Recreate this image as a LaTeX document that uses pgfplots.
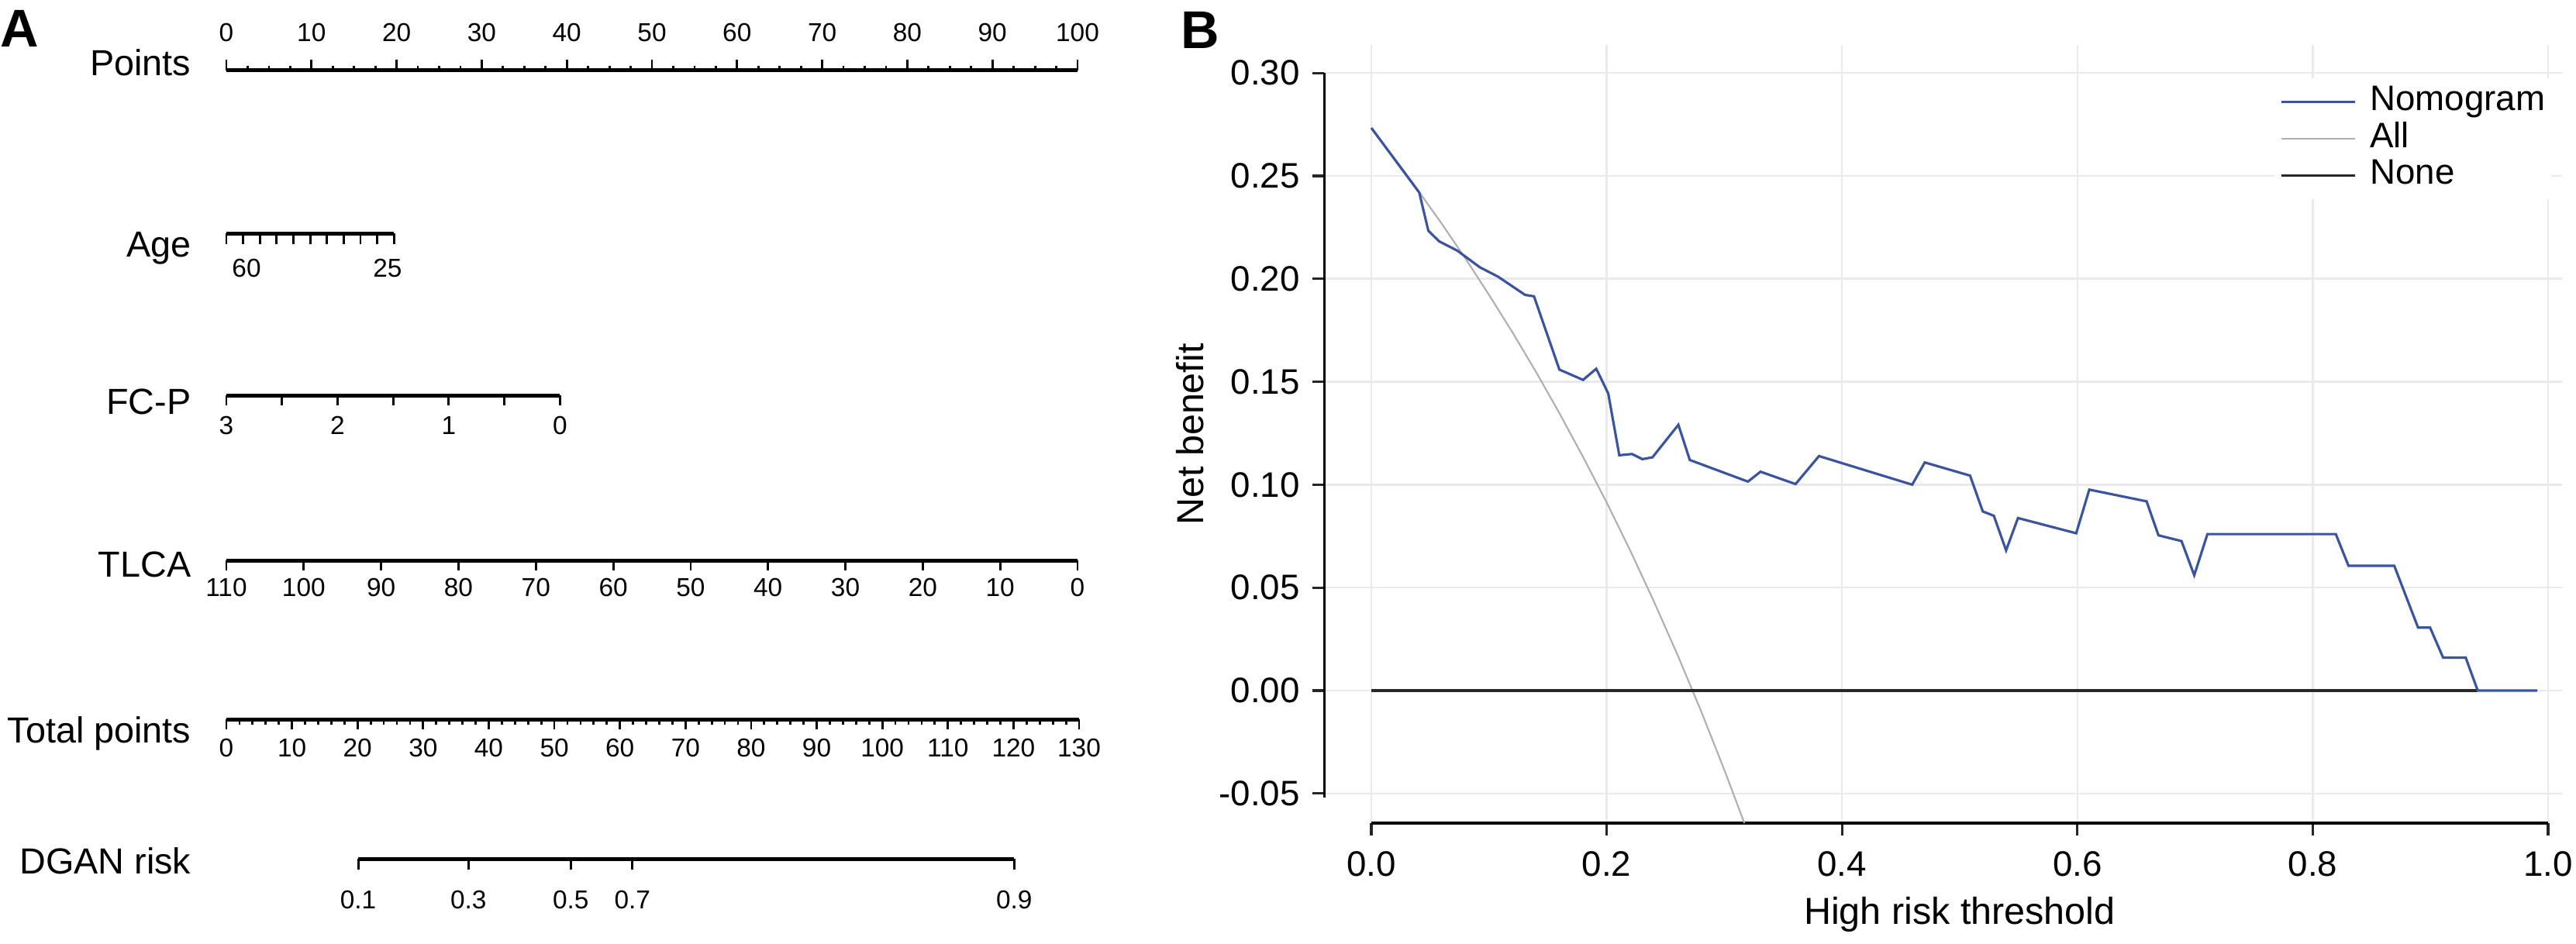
\documentclass[border=0pt]{standalone}
\usepackage{fontspec}
\setmainfont{Liberation Sans}
\usepackage{pgfplots}
\pgfplotsset{compat=1.18}

\definecolor{nomoblue}{RGB}{58,84,160}
\definecolor{allgray}{RGB}{175,175,175}
\definecolor{nonegray}{RGB}{40,40,40}
\definecolor{gridgray}{RGB}{234,234,234}

\newcommand{\rowf}{\fontsize{13.3}{15}\selectfont}
\newcommand{\tlf}{\fontsize{9.5}{11}\selectfont}
\newcommand{\btf}{\fontsize{13}{15}\selectfont}
\newcommand{\blf}{\fontsize{13.8}{16}\selectfont}

% one nomogram scale = one axis with only its x line
\pgfplotsset{
  nomo/.style={
    scale only axis, height=1mm, ymin=0, ymax=1,
    hide y axis, axis x line*=bottom,
    axis line style={line width=1.5pt, -},
    tick align=outside, major tick length=1.3mm, minor tick length=0.65mm,
    tick style={black, line width=0.8pt},
    xticklabel style={font=\tlf, anchor=base, inner sep=0pt},
  },
}

% net benefit of the nomogram
\pgfplotstableread{
x y
0.0000 0.2733
0.0407 0.2419
0.0484 0.2234
0.0576 0.2182
0.0730 0.2137
0.0922 0.2056
0.1075 0.2011
0.1306 0.1922
0.1382 0.1915
0.1598 0.1559
0.1799 0.1509
0.1911 0.1563
0.1960 0.1506
0.2013 0.1443
0.2107 0.1143
0.2215 0.1149
0.2303 0.1124
0.2389 0.1133
0.2609 0.1291
0.2706 0.1120
0.3200 0.1015
0.3307 0.1063
0.3605 0.1003
0.3804 0.1139
0.4596 0.1000
0.4703 0.1108
0.5088 0.1044
0.5196 0.0870
0.5290 0.0849
0.5394 0.0681
0.5495 0.0838
0.5990 0.0764
0.6101 0.0976
0.6588 0.0919
0.6689 0.0754
0.6885 0.0726
0.6993 0.0560
0.7105 0.0760
0.8196 0.0760
0.8304 0.0606
0.8693 0.0606
0.8895 0.0306
0.8997 0.0306
0.9108 0.0160
0.9300 0.0160
0.9402 0.0000
0.9909 0.0000
}\nomodata

% treat all
\pgfplotstableread{
x y
0.00 0.2730
0.02 0.2582
0.04 0.2427
0.06 0.2266
0.08 0.2098
0.10 0.1922
0.12 0.1739
0.14 0.1547
0.16 0.1345
0.18 0.1134
0.20 0.0913
0.22 0.0680
0.24 0.0434
0.26 0.0176
0.28 -0.0097
0.30 -0.0386
0.317 -0.0644
}\alldata

\begin{document}
\begin{tikzpicture}
\useasboundingbox (0,0) rectangle (332.3mm,-121.7mm);

% ---------------- panel A: nomogram ----------------
\node[anchor=base west, font=\fontsize{19.5}{22}\selectfont\bfseries, inner sep=0pt] at (0,-6.0mm) {A};

\node[anchor=base east, font=\rowf, inner sep=0pt] at (24.7mm,-9.75mm) {Points};
\node[anchor=base east, font=\rowf, inner sep=0pt] at (24.7mm,-33.1mm) {Age};
\node[anchor=base east, font=\rowf, inner sep=0pt] at (24.7mm,-53.4mm) {FC-P};
\node[anchor=base east, font=\rowf, inner sep=0pt] at (24.7mm,-74.4mm) {TLCA};
\node[anchor=base east, font=\rowf, inner sep=0pt] at (24.7mm,-95.8mm) {Total points};
\node[anchor=base east, font=\rowf, inner sep=0pt] at (24.7mm,-112.7mm) {DGAN risk};

% Points
\begin{axis}[nomo, axis x line*=top, at={(29.2mm,-9.07mm)}, anchor=north west,
  width=109.8mm, xmin=0, xmax=100,
  xtick={0,10,20,30,40,50,60,70,80,90,100}, minor x tick num=3,
  xticklabels={0,10,20,30,40,50,60,70,80,90,100},
  major tick length=1.4mm, minor tick length=0.6mm,
  xticklabel style={yshift=2.37mm}]
\end{axis}

% Age
\begin{axis}[nomo, at={(29.2mm,-30.14mm)}, anchor=south west,
  width=21.63mm, xmin=0, xmax=19.7,
  xtick={2.37,18.94}, xticklabels={60,25}, major tick length=0mm,
  minor xtick={0,1.97,3.94,5.91,7.88,9.85,11.82,13.79,15.76,17.73,19.7},
  minor tick length=1.4mm,
  xticklabel style={yshift=-5.64mm}]
\end{axis}

% FC-P
\begin{axis}[nomo, at={(29.2mm,-51.02mm)}, anchor=south west,
  width=43.04mm, xmin=0, xmax=39.2,
  xtick={0,13.07,26.13,39.2}, xticklabels={3,2,1,0},
  minor xtick={6.53,19.6,32.67}, minor tick length=1.3mm,
  xticklabel style={yshift=-3.76mm}]
\end{axis}

% TLCA
\begin{axis}[nomo, at={(29.2mm,-72.32mm)}, anchor=south west,
  width=109.8mm, xmin=0, xmax=100,
  xtick={0,9.0909,18.1818,27.2727,36.3636,45.4545,54.5455,63.6364,72.7273,81.8182,90.9091,100},
  xticklabels={110,100,90,80,70,60,50,40,30,20,10,0},
  xticklabel style={yshift=-3.34mm}]
\end{axis}

% Total points
\begin{axis}[nomo, at={(29.2mm,-92.82mm)}, anchor=south west,
  width=110.0mm, xmin=0, xmax=130,
  xtick={0,10,20,30,40,50,60,70,80,90,100,110,120,130}, minor x tick num=4,
  xticklabels={0,10,20,30,40,50,60,70,80,90,100,110,120,130},
  minor tick length=0.7mm,
  xticklabel style={yshift=-3.48mm}]
\end{axis}

% DGAN risk (positions in total points)
\begin{axis}[nomo, at={(46.21mm,-110.83mm)}, anchor=south west,
  width=84.62mm, xmin=20.1, xmax=120.1,
  xtick={20.1,36.9,52.5,61.9,120.1}, xticklabels={0.1,0.3,0.5,0.7,0.9},
  major tick length=1.4mm,
  xticklabel style={yshift=-4.97mm}]
\end{axis}

% ---------------- panel B: decision curve ----------------
\node[anchor=base west, font=\fontsize{19.5}{22}\selectfont\bfseries, inner sep=0pt] at (152.3mm,-6.2mm) {B};

\begin{axis}[
  at={(170.8mm,-106.2mm)}, anchor=south west,
  scale only axis, width=159.7mm, height=100.4mm,
  xmin=-0.0402, xmax=1.0119, ymin=-0.0644, ymax=0.3136,
  clip=false,
  axis line style={draw=none},
  tick align=outside, xtick pos=left, ytick pos=left,
  major tick length=1.55mm,
  tick style={black!85, line width=0.9pt},
  xtick={0,0.2,0.4,0.6,0.8,1.0},
  xticklabels={0.0,0.2,0.4,0.6,0.8,1.0},
  ytick={-0.05,0,0.05,0.1,0.15,0.2,0.25,0.3},
  yticklabels={-0.05,0.00,0.05,0.10,0.15,0.20,0.25,0.30},
  grid=major, major grid style={draw=gridgray, line width=0.25mm},
  xticklabel style={font=\btf, anchor=base, inner sep=0pt, yshift=-5.3mm},
  yticklabel style={font=\btf, anchor=east, inner sep=0pt, xshift=-1.5mm},
  xlabel={High risk threshold},
  xlabel style={at={(axis description cs:0.5134,0)}, anchor=base, yshift=-13.0mm, font=\blf},
  ylabel={Net benefit},
  ylabel style={at={(axis description cs:-0.0971,0.4995)}, anchor=base, font=\blf},
  legend image code/.code={\draw[#1] (0mm,0mm) -- (9.5mm,0mm);},
  legend cell align=left,
  legend style={at={(axis description cs:0.7671,0.9582)}, anchor=north west,
    draw=none, fill=white, inner sep=0.7mm, font=\btf,
    row sep=0pt, column sep=1.7mm,
    nodes={inner sep=0.1mm, text height=3.4mm, text depth=1.15mm}},
]
\draw[black, line width=0.3mm] (axis cs:-0.0402,-0.052) -- (axis cs:-0.0402,0.30);
\draw[black, line width=0.45mm] (axis cs:0,-0.0644) -- (axis cs:1,-0.0644);

\addplot[allgray, line width=0.6pt, forget plot] table[x=x, y=y] {\alldata};
\addplot[nonegray, line width=1.0pt, forget plot] coordinates {(0,0) (0.9402,0)};
\addplot[nomoblue, line width=0.9pt, forget plot] table[x=x, y=y] {\nomodata};

\addlegendimage{nomoblue, line width=0.9pt}
\addlegendimage{allgray, line width=0.6pt}
\addlegendimage{nonegray, line width=1.0pt}
\legend{Nomogram,All,None}
\end{axis}
\end{tikzpicture}
\end{document}
